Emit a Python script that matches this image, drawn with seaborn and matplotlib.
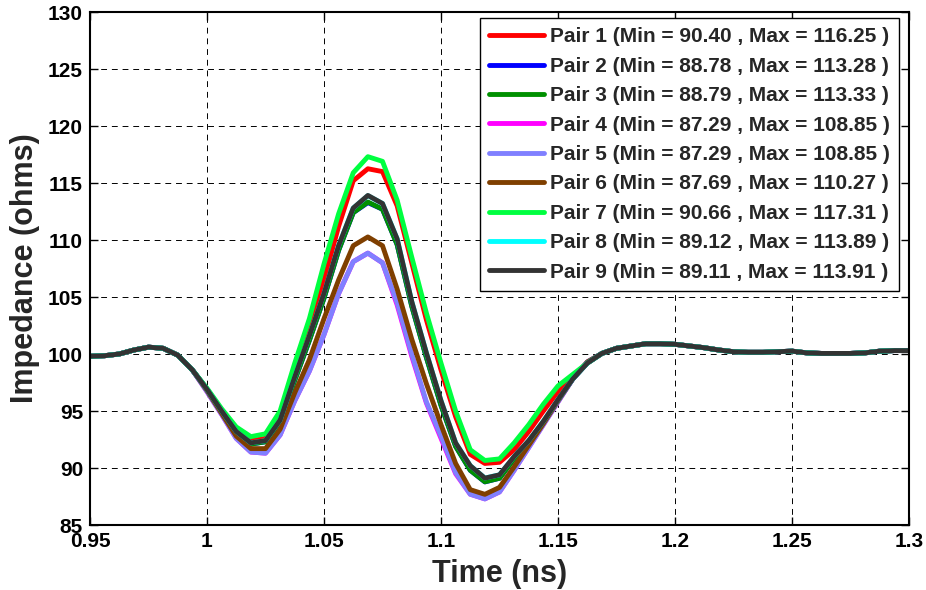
# -*- coding: utf-8 -*-
"""
TDR impedance of the nine differential pairs
"""

# %% Library imports

import matplotlib
matplotlib.use("Agg")
import seaborn as sns
import matplotlib.pyplot as plt

# %% Data

time_ns = [0.95, 0.95625, 0.9625, 0.96875, 0.975, 0.98125, 0.9875, 0.99375,
           1.0, 1.00625, 1.0125, 1.01875, 1.025, 1.03125, 1.0375, 1.04375,
           1.05, 1.05625, 1.0625, 1.06875, 1.075, 1.08125, 1.0875, 1.09375,
           1.1, 1.10625, 1.1125, 1.11875, 1.125, 1.13125, 1.1375, 1.14375,
           1.15, 1.15625, 1.1625, 1.16875, 1.175, 1.18125, 1.1875, 1.19375,
           1.2, 1.20625, 1.2125, 1.21875, 1.225, 1.23125, 1.2375, 1.24375,
           1.25, 1.25625, 1.2625, 1.26875, 1.275, 1.28125, 1.2875, 1.29375,
           1.3]

pair1 = [99.8, 99.85, 100.0, 100.35, 100.6, 100.5, 99.9, 98.6,
         96.9, 95.0, 93.3, 92.4, 92.6, 94.6, 98.6, 102.3, 106.5, 111.2, 115.2,
         116.25, 116.0, 113.0, 108.0, 103.0, 98.6, 94.5, 91.2, 90.40, 90.5,
         91.6, 93.2, 95.0, 96.7, 98.0, 99.2,
         100.05, 100.5, 100.7, 100.9, 100.9, 100.85, 100.7, 100.55, 100.35,
         100.2, 100.15, 100.15, 100.2, 100.25, 100.1, 100.05, 100.05, 100.05,
         100.1, 100.25, 100.3, 100.3]
pair2 = [99.8, 99.85, 100.0, 100.35, 100.6, 100.5, 99.9, 98.6,
         96.9, 95.0, 93.1, 92.1, 92.3, 94.0, 97.7, 101.2, 104.9, 109.1, 112.4,
         113.28, 112.7, 109.6, 104.2, 99.7, 95.5, 91.9, 89.8, 88.78, 89.1,
         90.8, 92.3, 94.0, 95.9, 97.8, 99.2,
         100.05, 100.5, 100.7, 100.9, 100.9, 100.85, 100.7, 100.55, 100.35,
         100.2, 100.15, 100.15, 100.2, 100.25, 100.1, 100.05, 100.05, 100.05,
         100.1, 100.25, 100.3, 100.3]
pair3 = [99.8, 99.85, 100.0, 100.35, 100.6, 100.5, 99.9, 98.6,
         96.9, 95.0, 93.1, 92.1, 92.3, 94.0, 97.7, 101.2, 104.9, 109.1, 112.4,
         113.33, 112.7, 109.6, 104.2, 99.7, 95.5, 91.9, 89.8, 88.79, 89.1,
         90.8, 92.3, 94.0, 95.9, 97.8, 99.2,
         100.05, 100.5, 100.7, 100.9, 100.9, 100.85, 100.7, 100.55, 100.35,
         100.2, 100.15, 100.15, 100.2, 100.25, 100.1, 100.05, 100.05, 100.05,
         100.1, 100.25, 100.3, 100.3]
pair4 = [99.8, 99.85, 100.0, 100.35, 100.6, 100.5, 99.9, 98.6,
         96.7, 94.7, 92.6, 91.4, 91.3, 92.9, 95.9, 98.5, 101.7, 105.3, 108.1,
         108.85, 108.0, 104.3, 99.8, 95.7, 92.6, 89.5, 87.7, 87.29, 87.9,
         89.8, 91.8, 93.8, 95.8, 97.8, 99.3,
         100.05, 100.5, 100.7, 100.9, 100.9, 100.85, 100.7, 100.55, 100.35,
         100.2, 100.15, 100.15, 100.2, 100.25, 100.1, 100.05, 100.05, 100.05,
         100.1, 100.25, 100.3, 100.3]
pair5 = [99.8, 99.85, 100.0, 100.35, 100.6, 100.5, 99.9, 98.6,
         96.7, 94.7, 92.6, 91.4, 91.3, 92.9, 95.9, 98.5, 101.7, 105.3, 108.1,
         108.85, 108.0, 104.5, 100.0, 95.8, 92.8, 89.6, 87.7, 87.29, 87.9,
         89.8, 91.8, 93.8, 95.8, 97.8, 99.3,
         100.05, 100.5, 100.7, 100.9, 100.9, 100.85, 100.7, 100.55, 100.35,
         100.2, 100.15, 100.15, 100.2, 100.25, 100.1, 100.05, 100.05, 100.05,
         100.1, 100.25, 100.3, 100.3]
pair6 = [99.8, 99.85, 100.0, 100.35, 100.6, 100.5, 99.9, 98.6,
         96.8, 94.8, 92.8, 91.7, 91.7, 93.4, 96.6, 99.5, 103.1, 106.5, 109.5,
         110.27, 109.5, 105.7, 101.3, 97.4, 93.8, 90.4, 88.1, 87.69, 88.3,
         90.1, 92.0, 93.9, 95.9, 97.8, 99.3,
         100.05, 100.5, 100.7, 100.9, 100.9, 100.85, 100.7, 100.55, 100.35,
         100.2, 100.15, 100.15, 100.2, 100.25, 100.1, 100.05, 100.05, 100.05,
         100.1, 100.25, 100.3, 100.3]
pair7 = [99.8, 99.85, 100.0, 100.35, 100.6, 100.5, 99.9, 98.6,
         97.0, 95.2, 93.6, 92.75, 93.0, 95.0, 99.2, 103.1, 107.9, 112.3, 115.9,
         117.31, 116.9, 113.5, 108.5, 103.6, 99.2, 95.0, 91.6, 90.66, 90.8,
         92.2, 93.8, 95.6, 97.2, 98.2, 99.2,
         100.05, 100.5, 100.7, 100.9, 100.9, 100.85, 100.7, 100.55, 100.35,
         100.2, 100.15, 100.15, 100.2, 100.25, 100.1, 100.05, 100.05, 100.05,
         100.1, 100.25, 100.3, 100.3]
pair8 = [99.8, 99.85, 100.0, 100.35, 100.6, 100.5, 99.9, 98.6,
         96.9, 95.0, 93.2, 92.2, 92.4, 94.2, 98.0, 101.6, 105.3, 109.5, 112.8,
         113.89, 113.2, 110.1, 104.6, 100.1, 95.9, 92.2, 90.2, 89.12, 89.4,
         91.0, 92.4, 94.1, 96.0, 97.8, 99.2,
         100.05, 100.5, 100.7, 100.9, 100.9, 100.85, 100.7, 100.55, 100.35,
         100.2, 100.15, 100.15, 100.2, 100.25, 100.1, 100.05, 100.05, 100.05,
         100.1, 100.25, 100.3, 100.3]
pair9 = [99.8, 99.85, 100.0, 100.35, 100.6, 100.5, 99.9, 98.6,
         96.9, 95.0, 93.2, 92.2, 92.4, 94.2, 98.0, 101.6, 105.3, 109.5, 112.8,
         113.91, 113.2, 110.1, 104.6, 100.1, 95.9, 92.2, 90.2, 89.11, 89.4,
         91.0, 92.4, 94.1, 96.0, 97.8, 99.2,
         100.05, 100.5, 100.7, 100.9, 100.9, 100.85, 100.7, 100.55, 100.35,
         100.2, 100.15, 100.15, 100.2, 100.25, 100.1, 100.05, 100.05, 100.05,
         100.1, 100.25, 100.3, 100.3]

pair_min = [90.40, 88.78, 88.79, 87.29, 87.29, 87.69, 90.66, 89.12, 89.11]
pair_max = [116.25, 113.28, 113.33, 108.85, 108.85, 110.27, 117.31, 113.89,
            113.91]
pair_colors = ["#ff0000", "#0000ff", "#009000", "#ff00ff", "#8080ff",
               "#7f3f00", "#00ff40", "#00ffff", "#333333"]

x_ticks = [0.95, 1.0, 1.05, 1.1, 1.15, 1.2, 1.25, 1.3]
x_ticklabels = ["0.95", "1", "1.05", "1.1", "1.15", "1.2", "1.25", "1.3"]
y_ticks = [85, 90, 95, 100, 105, 110, 115, 120, 125, 130]

pairs = [pair1, pair2, pair3, pair4, pair5, pair6, pair7, pair8, pair9]

# %% Visualizing

sns.set_style("ticks")
plt.rcParams["font.family"] = ["Liberation Sans", "DejaVu Sans"]
plt.rcParams["font.weight"] = "bold"

fig = plt.figure(figsize=(9.26, 5.90), dpi=100)
ax = fig.add_axes([90 / 926, 65 / 590, 819 / 926, 513 / 590])

for i, vals in enumerate(pairs):
    label = "Pair %d (Min = %.2f , Max = %.2f )" % (i + 1, pair_min[i],
                                                    pair_max[i])
    sns.lineplot(x=time_ns, y=vals, ax=ax, color=pair_colors[i],
                 linewidth=3.5, label=label)

ax.set_xlim(0.95, 1.3)
ax.set_ylim(85, 130)
ax.set_xticks(x_ticks)
ax.set_xticklabels(x_ticklabels)
ax.set_yticks(y_ticks)
ax.tick_params(direction="in", length=6, width=1, top=True, right=True,
               labelsize=15, colors="black", pad=5)
for s in ax.spines.values():
    s.set_linewidth(1.5)
    s.set_color("black")
ax.grid(True, color="black", linestyle=(0, (6, 5)), linewidth=0.7)
ax.set_axisbelow(True)

ax.set_xlabel("Time (ns)", fontsize=22, fontweight="bold", labelpad=6)
ax.set_ylabel("Impedance (ohms)", fontsize=22, fontweight="bold",
              labelpad=6)

leg = ax.legend(loc="upper right", bbox_to_anchor=(0.9878, 0.9883),
                borderaxespad=0, fancybox=False, edgecolor="black",
                framealpha=1, prop={"weight": "bold", "size": 15},
                handlelength=2.6, handletextpad=0.3, labelspacing=0.5,
                borderpad=0.45)
leg.get_frame().set_linewidth(1.0)

plt.savefig("out.png", dpi=100)
